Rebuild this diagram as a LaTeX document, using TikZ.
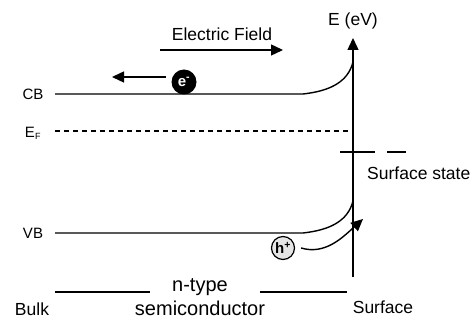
\documentclass[tikz,border=0pt]{standalone}
\usepackage{fontspec}
\setmainfont{Liberation Sans}
\usetikzlibrary{arrows.meta, positioning, calc}
\tikzset{
  % band diagram styles
  band/.style={line width=1.4pt},
  level/.style={line width=1.4pt, dash pattern=on 5pt off 4pt},
  arrow/.style={-{Triangle[length=12pt,width=11pt]}, line width=1.4pt},
  lbl/.style={font=\fontsize{17.5}{19}\selectfont, inner sep=0pt},
  bandlbl/.style={font=\fontsize{15}{16}\selectfont, inner sep=0pt},
  biglbl/.style={font=\fontsize{20}{22}\selectfont, inner sep=0pt},
  carrier/.style={circle, minimum size=#1, inner sep=0pt, line width=1.2pt, font=\bfseries\fontsize{15}{15}\selectfont},
}

\begin{document}
\begin{tikzpicture}[x=1pt, y=-1pt]
    \useasboundingbox (0,0) rectangle (472,320);

    % Axis
    \coordinate (axbot) at (353,277);
    \coordinate (axtop) at (353,38);
    \node[lbl] (eaxis) at (353,21) {E (eV)};

    % Electric field
    \node[lbl] (field) at (222,34) {Electric Field};
    \coordinate (fieldL) at (160,50);
    \coordinate (fieldR) at (283,50);

    % CB
    \node[bandlbl] (cb) at (33,94) {CB};
    \coordinate (cbL) at (55,94);
    \coordinate (cbK) at (303,94);
    \coordinate (cbS) at (353,62);

    % electron
    \node[carrier=25pt, fill=black, text=white] (elec) at (184,82) {e\textsuperscript{-}};
    \coordinate (elecTip) at (112,77);

    % Fermi level
    \node[bandlbl] (ef) at (33,133) {E\textsubscript{\fontsize{9}{9}\selectfont F}};
    \coordinate (efL) at (55,131);
    \coordinate (efR) at (353,131);

    % Surface state
    \coordinate (ssL) at (340,152);
    \coordinate (ssR) at (375,152);
    \coordinate (ssdL) at (387,152);
    \coordinate (ssdR) at (406,152);
    \node[lbl, anchor=west] (sstate) at (367,173) {Surface state};

    % VB
    \node[bandlbl] (vb) at (33,233) {VB};
    \coordinate (vbL) at (55,233);
    \coordinate (vbK) at (303,233);
    \coordinate (vbS) at (353,201);

    % hole
    \node[carrier=23pt, draw=black, fill=gray!20] (hole) at (283,248) {h\textsuperscript{+}};
    \coordinate (holeTip) at (363,219);

    % Bottom labels
    \node[biglbl] (ntype) at (200,287) {n-type};
    \node[biglbl] (semi) at (200,308) {semiconductor};
    \node[lbl] (bulk) at (32,309) {Bulk};
    \node[lbl] (surf) at (383,307) {Surface};
    \coordinate (brL1) at (55,292);
    \coordinate (brR1) at (150,292);
    \coordinate (brL2) at (260,292);
    \coordinate (brR2) at (347,292);

% === Lines ===
    \draw[arrow] (axbot) -- (axtop);
    \draw[arrow] (fieldL) -- (fieldR);
    \draw[band] (cbL) -- (cbK) .. controls (330,91) and (348,82) .. (cbS);
    \draw[arrow] (elec.west |- elecTip) ++(-5,0) -- (elecTip);
    \draw[level] (efL) -- (efR);
    \draw[band] (ssL) -- (ssR);
    \draw[band] (ssdL) -- (ssdR);
    \draw[band] (vbL) -- (vbK) .. controls (330,230) and (348,221) .. (vbS);
    \draw[arrow] ([xshift=6pt]hole.east) .. controls (325,255) and (342,238) .. (holeTip);
    \draw[band] (brL1) -- (brR1);
    \draw[band] (brL2) -- (brR2);
\end{tikzpicture}
\end{document}
